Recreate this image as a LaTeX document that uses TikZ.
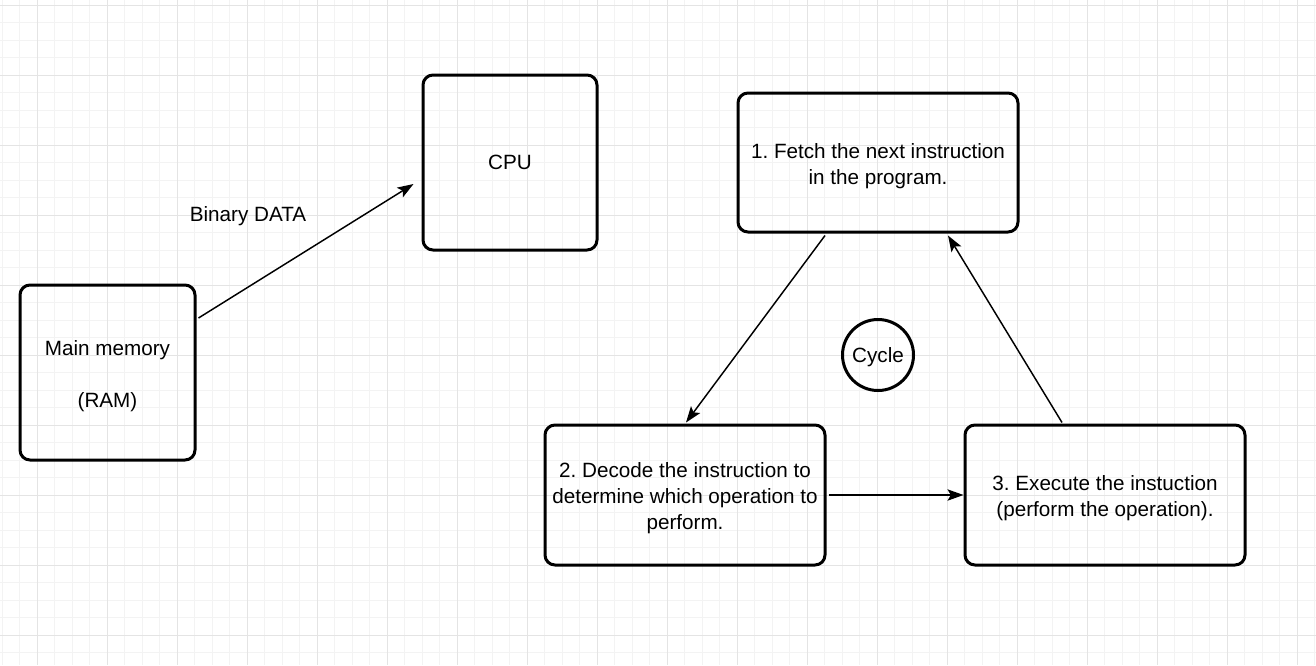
\documentclass[tikz,border=0pt]{standalone}
\usepackage{fontspec}
\setmainfont{Liberation Sans}
\usetikzlibrary{arrows.meta,calc}
\definecolor{gridminor}{HTML}{F3F3F3}
\definecolor{gridmajor}{HTML}{E4E4E4}
\tikzset{
  txt/.style={inner sep=0pt, align=center, font=\frenchspacing\fontsize{15.5}{19.5}\selectfont},
  box/.style={draw=black, line width=2.25pt, rounded corners=7.5pt, inner sep=0pt, txt},
  boxtext/.style={label={[txt, yshift=-2.4pt]center:#1}},
  lbl/.style={txt},
  conn/.style={line width=1.1pt, -{Stealth[length=12pt,width=8.5pt,inset=2.5pt]}},
}
\begin{document}
\begin{tikzpicture}[x=0.75pt,y=-0.75pt]
\useasboundingbox (0,0) rectangle (1316,665);
\fill[white] (0,0) rectangle (1316,665);
% grid
\foreach \i in {0,...,75} {
  \draw[gridminor, line width=0.75pt] ({2.3+17.5*\i},0) -- ({2.3+17.5*\i},665);
}
\foreach \j in {0,...,38} {
  \draw[gridminor, line width=0.75pt] (0,{5+17.5*\j}) -- (1316,{5+17.5*\j});
}
\foreach \i in {0,...,18} {
  \draw[gridmajor, line width=0.75pt] ({37.3+70*\i},0) -- ({37.3+70*\i},665);
}
\foreach \j in {0,...,9} {
  \draw[gridmajor, line width=0.75pt] (0,{5+70*\j}) -- (1316,{5+70*\j});
}
% nodes
\node[box, minimum width=131.25pt, minimum height=131.25pt,
  boxtext={Main memory\\[19.5pt](RAM)}] (ram) at (107.5,372.5) {};
\node[box, minimum width=130.5pt, minimum height=131.25pt] (cpu) at (510,162.5) {CPU};
\node[box, minimum width=210pt, minimum height=104.25pt,
  boxtext={1. Fetch the next instruction\\in the program.}] (fetch) at (878,162.5) {};
\node[box, minimum width=210pt, minimum height=105pt,
  boxtext={2. Decode the instruction to\\determine which operation to\\perform.}] (decode) at (685,495) {};
\node[box, minimum width=210pt, minimum height=105pt,
  boxtext={3. Execute the instuction\\(perform the operation).}] (exec) at (1105,495) {};
\node[draw=black, line width=2.25pt, circle, minimum size=53.25pt, inner sep=0pt,
  label={[txt, yshift=-1.5pt]center:Cycle}] (cycle) at (878,355) {};
\node[lbl] (bin) at (248,216.5) {Binary DATA};
% connector end points
\coordinate (a1s) at ($(ram.east)+(2,-54.5)$);
\coordinate (a1e) at ($(cpu.west)+(-8,21.5)$);
\coordinate (a2s) at ($(fetch.south)+(-53,2)$);
\coordinate (a2e) at ($(decode.north)+(1,-1)$);
\coordinate (a3s) at ($(exec.north)+(-43,-1)$);
\coordinate (a3e) at ($(fetch.south)+(70,2)$);
\coordinate (a4s) at ($(decode.east)+(2,0)$);
% connectors
\draw[conn] (a1s) -- (a1e);
\draw[conn] (a2s) -- (a2e);
\draw[conn] (a3s) -- (a3e);
\draw[conn] (a4s) -- (exec.west);
\end{tikzpicture}
\end{document}
